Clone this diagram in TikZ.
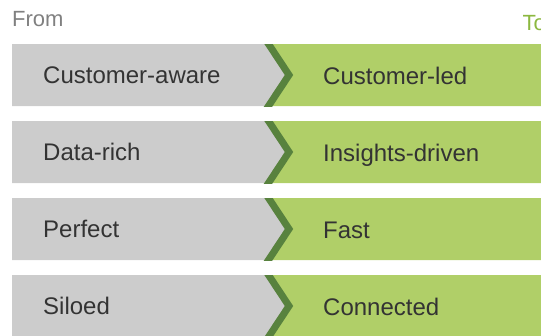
\documentclass[tikz,border=0pt]{standalone}
\usepackage{fontspec}
\setmainfont{Liberation Sans}
\usepackage{tikz}
\usetikzlibrary{calc, positioning}
\definecolor{boxgrey}{RGB}{204,204,204}
\definecolor{leafgreen}{RGB}{176,207,104}
\definecolor{darkgreen}{RGB}{88,130,62}
\definecolor{labelgrey}{RGB}{128,128,128}
\definecolor{togreen}{RGB}{140,184,64}
\definecolor{textdark}{RGB}{51,51,51}

\begin{document}
\begin{tikzpicture}[x=1pt, y=-1pt,
		rowtext/.style={anchor=base west, inner sep=0pt, font=\fontsize{24}{28}\selectfont, text=textdark},
		headtext/.style={anchor=base west, inner sep=0pt, font=\fontsize{22}{26}\selectfont}]
		
		% fix the page to the size of the picture
		\useasboundingbox (0,0) rectangle (541,335);
		
		% the two headings
		\node[headtext, text=labelgrey] (fromhead) at (12,26.7) {From};
		\node[headtext, text=togreen] (tohead) at (522.5,30) {To};
		
		% one row per pair: top edge / left word / right word
		\foreach \rowtop/\oldword/\newword [count=\i] in {44/Customer-aware/Customer-led, 121/Data-rich/Insights-driven, 198/Perfect/Fast, 275/Siloed/Connected}{
			\pgfmathsetmacro{\rowbot}{\rowtop+62}
			\pgfmathsetmacro{\rowmid}{\rowtop+31}
			% grey part and green part, both following the chevron
			\fill[boxgrey] (12,\rowtop) -- (268.5,\rowtop) -- (289,\rowmid) -- (268.5,\rowbot) -- (12,\rowbot) -- cycle;
			\fill[leafgreen] (268.5,\rowtop) -- (289,\rowmid) -- (268.5,\rowbot) -- (541,\rowbot) -- (541,\rowtop) -- cycle;
			% the chevron, cut flat at top and bottom
			\begin{scope}
				\clip (12,\rowtop) rectangle (541,\rowbot);
				\draw[darkgreen, line width=7pt, miter limit=4] (265.2,\rowtop-5) -- (289,\rowmid) -- (265.2,\rowbot+5);
			\end{scope}
			\node[rowtext] (from\i) at (43,\rowmid+8.6) {\oldword};
			\node[rowtext] (to\i) at (323,\rowmid+9.5) {\newword};
		}
	\end{tikzpicture}
\end{document}
